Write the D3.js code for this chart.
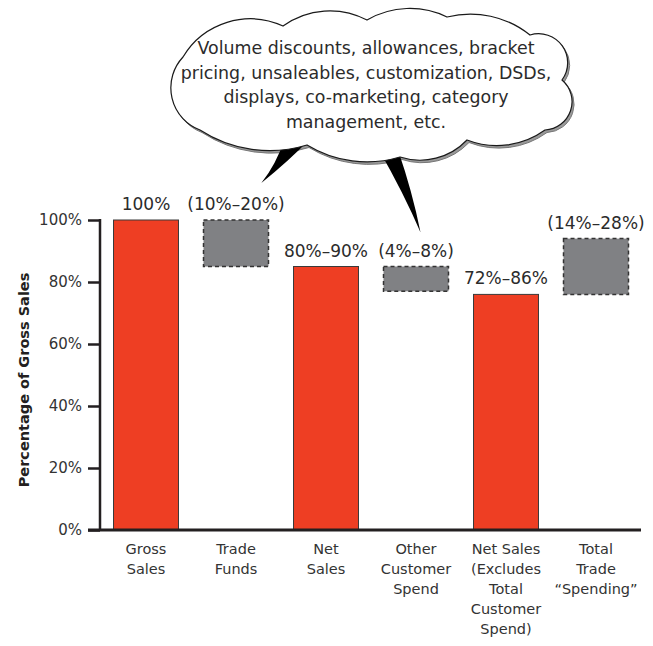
<!DOCTYPE html>
<html>
<head>
<meta charset="utf-8">
<script src="https://cdn.jsdelivr.net/npm/d3@7"></script>
<style>
  html, body { margin: 0; padding: 0; background: #fff; }
  svg { display: block; }
</style>
</head>
<body>
<div id="chart"></div>
<script>
// ===== TRADE SPENDING WATERFALL =====

// categories (line breaks as they sit under the axis)
const categories = [
  "Gross\nSales",
  "Trade\nFunds",
  "Net\nSales",
  "Other\nCustomer\nSpend",
  "Net Sales\n(Excludes\nTotal\nCustomer\nSpend)",
  "Total\nTrade\n\u201cSpending\u201d"
];
// solid bar or dashed range box
const kinds = ["bar", "range", "bar", "range", "bar", "range"];
// bottom and top of each mark, % of gross sales
const lows  = [0, 85, 0, 77, 0, 76];
const highs = [100, 100, 85, 85, 76, 94];
// labels above each mark
const valueLabels = ["100%", "(10%\u201320%)", "80%\u201390%", "(4%\u20138%)", "72%\u201386%", "(14%\u201328%)"];
// y axis ticks
const yTicks = [0, 20, 40, 60, 80, 100];

const calloutLines = [
  "Volume discounts, allowances, bracket",
  "pricing, unsaleables, customization, DSDs,",
  "displays, co-marketing, category",
  "management, etc."
];

const W = 653, H = 646;
const font = "'DejaVu Sans', 'Liberation Sans', sans-serif";

const svg = d3.select("#chart").append("svg")
  .attr("width", W)
  .attr("height", H);

const x = d3.scaleBand()
  .domain(categories)
  .range([101, 641])
  .paddingInner(0.278)
  .paddingOuter(0.139);

const y = d3.scaleLinear()
  .domain([0, 100])
  .range([530, 220]);

// ---- callout cloud (drawn first so chart sits on top) ----
const cloud = svg.append("g").attr("class", "cloud");

// cusp points clockwise, with how far each bump bulges outward
const cusps = [
  [183, 57], [283, 26], [367, 20], [447, 17], [530, 35], [562, 80],
  [545, 130], [467, 140], [400, 157], [307, 145], [200, 130]
];
const bulges = [20, 12, 10, 10, 20, 18, 10, 10, 10, 12, 20];

function cloudPath() {
  let d = `M${cusps[0][0]},${cusps[0][1]}`;
  cusps.forEach((p, i) => {
    const q = cusps[(i + 1) % cusps.length];
    const c = Math.hypot(q[0] - p[0], q[1] - p[1]);
    const h = bulges[i];
    const r = (c * c / 4 + h * h) / (2 * h);
    d += ` A${r},${r} 0 0 1 ${q[0]},${q[1]}`;
  });
  return d + "Z";
}

// tails point at the labels they explain
const tf = categories[1], oc = categories[3];
const tailLeft = [[284, 140], [310, 139], [x(tf) + x.bandwidth() * 0.89, y(100) - 37]];
const tailRight = [[379, 150], [398, 150], [x(oc) + x.bandwidth() * 0.57, y(85) - 34]];

// shadow
cloud.append("path")
  .attr("d", cloudPath())
  .attr("transform", "translate(2,2.5)")
  .attr("fill", "#9a9a9a")
  .attr("stroke", "#777")
  .attr("stroke-width", 1);

[tailLeft, tailRight].forEach(t => {
  const [a, b, tip] = t;
  cloud.append("path")
    .attr("d", `M${a[0]},${a[1]} Q${(a[0] + tip[0]) / 2 + 4},${(a[1] + tip[1]) / 2 + 2} ${tip[0]},${tip[1]} Q${(b[0] + tip[0]) / 2 + 3},${(b[1] + tip[1]) / 2} ${b[0]},${b[1]}Z`)
    .attr("fill", "#000");
});

cloud.append("path")
  .attr("d", cloudPath())
  .attr("fill", "#fff")
  .attr("stroke", "#1a1a1a")
  .attr("stroke-width", 1.2);

cloud.selectAll("text.callout")
  .data(calloutLines)
  .join("text")
  .attr("class", "callout")
  .attr("x", 366)
  .attr("y", (d, i) => 54 + i * 24.5)
  .attr("text-anchor", "middle")
  .attr("font-family", font)
  .attr("font-size", "17.4px")
  .attr("fill", "#2b2b2b")
  .text(d => d);

// ---- marks ----
const marks = categories.map((c, i) => ({
  cat: c, kind: kinds[i], low: lows[i], high: highs[i], label: valueLabels[i]
}));

svg.selectAll("rect.bar")
  .data(marks.filter(d => d.kind === "bar"))
  .join("rect")
  .attr("class", "bar")
  .attr("x", d => x(d.cat))
  .attr("y", d => y(d.high))
  .attr("width", x.bandwidth())
  .attr("height", d => y(d.low) - y(d.high))
  .attr("fill", "#ee3e23")
  .attr("stroke", "#3a3a3a")
  .attr("stroke-width", 1);

svg.selectAll("rect.range")
  .data(marks.filter(d => d.kind === "range"))
  .join("rect")
  .attr("class", "range")
  .attr("x", d => x(d.cat))
  .attr("y", d => y(d.high))
  .attr("width", x.bandwidth())
  .attr("height", d => y(d.low) - y(d.high))
  .attr("fill", "#808184")
  .attr("stroke", "#333")
  .attr("stroke-width", 1.5)
  .attr("stroke-dasharray", "4,3");

svg.selectAll("text.value")
  .data(marks)
  .join("text")
  .attr("class", "value")
  .attr("x", d => x(d.cat) + x.bandwidth() / 2)
  .attr("y", d => y(d.high) - 10)
  .attr("text-anchor", "middle")
  .attr("font-family", font)
  .attr("font-size", "17px")
  .attr("fill", "#2b2b2b")
  .text(d => d.label);

// ---- axes ----
const yAxis = d3.axisLeft(y)
  .tickValues(yTicks)
  .tickSize(12)
  .tickPadding(6)
  .tickFormat(d => d + "%");

const yg = svg.append("g")
  .attr("transform", "translate(100,0)")
  .call(yAxis);
yg.select(".domain").remove();
yg.selectAll(".tick line").attr("stroke", "#231f20").attr("stroke-width", 2.5);
yg.selectAll(".tick text")
  .attr("font-family", font)
  .attr("font-size", "15px")
  .attr("fill", "#333");

svg.append("line")
  .attr("x1", 100).attr("x2", 100)
  .attr("y1", y(100) - 1).attr("y2", y(0))
  .attr("stroke", "#231f20")
  .attr("stroke-width", 2.5);

svg.append("line")
  .attr("x1", 88).attr("x2", x.range()[1])
  .attr("y1", y(0)).attr("y2", y(0))
  .attr("stroke", "#231f20")
  .attr("stroke-width", 3);

// category labels
const catG = svg.selectAll("text.cat")
  .data(categories)
  .join("text")
  .attr("class", "cat")
  .attr("text-anchor", "middle")
  .attr("font-family", font)
  .attr("font-size", "14.5px")
  .attr("fill", "#333");

catG.selectAll("tspan")
  .data(d => d.split("\n").map(line => ({ line, cat: d })))
  .join("tspan")
  .attr("x", d => x(d.cat) + x.bandwidth() / 2)
  .attr("y", (d, i) => y(0) + 24 + i * 20)
  .text(d => d.line);

// y axis title
svg.append("text")
  .attr("transform", `translate(29,${(y(0) + y(100)) / 2 + 5}) rotate(-90)`)
  .attr("text-anchor", "middle")
  .attr("font-family", font)
  .attr("font-size", "14.5px")
  .attr("font-weight", "bold")
  .attr("fill", "#231f20")
  .text("Percentage of Gross Sales");
</script>
</body>
</html>
